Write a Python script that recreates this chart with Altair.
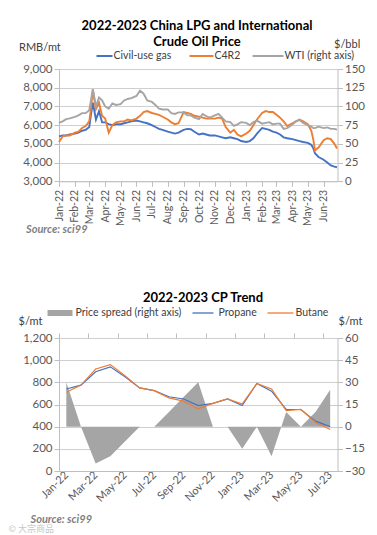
import altair as alt
import pandas as pd

FONT = "Lato"

# ---------------- top chart data ----------------
dates = [
    "2022-01-01", "2022-01-08", "2022-01-15", "2022-01-22",
    "2022-02-01", "2022-02-08", "2022-02-15", "2022-02-22",
    "2022-03-01", "2022-03-04", "2022-03-08", "2022-03-14", "2022-03-20", "2022-03-26",
    "2022-04-01", "2022-04-08", "2022-04-15", "2022-04-22",
    "2022-05-01", "2022-05-08", "2022-05-15", "2022-05-22",
    "2022-06-01", "2022-06-08", "2022-06-15", "2022-06-22",
    "2022-07-01", "2022-07-08", "2022-07-15", "2022-07-22",
    "2022-08-01", "2022-08-08", "2022-08-15", "2022-08-22",
    "2022-09-01", "2022-09-08", "2022-09-15", "2022-09-22",
    "2022-10-01", "2022-10-08", "2022-10-15", "2022-10-22",
    "2022-11-01", "2022-11-08", "2022-11-15", "2022-11-22",
    "2022-12-01", "2022-12-08", "2022-12-15", "2022-12-22",
    "2023-01-01", "2023-01-08", "2023-01-15", "2023-01-22",
    "2023-02-01", "2023-02-08", "2023-02-15", "2023-02-22",
    "2023-03-01", "2023-03-08", "2023-03-15", "2023-03-22",
    "2023-04-01", "2023-04-08", "2023-04-15", "2023-04-22",
    "2023-05-01", "2023-05-08", "2023-05-12", "2023-05-15", "2023-05-22",
    "2023-06-01", "2023-06-08", "2023-06-15", "2023-06-22", "2023-06-27",
]
civil_gas = [
    5400, 5450, 5450, 5500,
    5550, 5600, 5700, 5750,
    5900, 6500, 7200, 6300, 6750, 6150,
    6150, 6050, 6000, 6050,
    6050, 6100, 6150, 6200,
    6250, 6200, 6150, 6100,
    6000, 5900, 5800, 5750,
    5650, 5600, 5550, 5600,
    5750, 5800, 5780, 5650,
    5500, 5550, 5500, 5450,
    5450, 5400, 5350, 5300,
    5350, 5300, 5250, 5150,
    5100, 5150, 5300, 5550,
    5850, 5800, 5750, 5650,
    5600, 5500, 5350, 5300,
    5250, 5200, 5150, 5100,
    5050, 4950, 4750, 4500, 4300,
    4150, 4000, 3850, 3780, 3750,
]
c4r2 = [
    5100, 5400, 5450, 5450,
    5600, 5650, 5850, 5950,
    6200, 6800, 7900, 6850, 7200, 6500,
    6350, 5600, 6000, 6150,
    6200, 6200, 6300, 6250,
    6350, 6500, 6700, 6750,
    6650, 6600, 6550, 6450,
    6300, 6150, 6050, 6100,
    6700, 6650, 6600, 6500,
    6450, 6400, 6350, 6350,
    6350, 6400, 6350, 5900,
    5600, 5750, 5500, 5400,
    5550, 5700, 6000, 6300,
    6650, 6750, 6700, 6700,
    6550, 6400, 6200, 5950,
    6100, 6200, 6300, 6200,
    6050, 5700, 5200, 4650, 4800,
    5200, 5300, 5250, 5000, 4750,
]
wti = [
    78, 80, 83, 84,
    86, 88, 91, 91,
    95, 107, 123, 100, 112, 108,
    100, 97, 104, 102,
    103, 108, 110, 111,
    114, 121, 117, 108,
    106, 102, 97, 96,
    96, 91, 90, 92,
    92, 88, 88, 85,
    83, 90, 87, 85,
    88, 90, 85, 80,
    79, 74, 76, 79,
    78, 75, 79, 81,
    77, 78, 79, 76,
    77, 77, 70, 71,
    76, 80, 82, 78,
    75, 73, 71, 71, 73,
    71, 72, 70, 70, 69,
]

# ---------------- bottom chart data ----------------
months = ["Jan-22", "Feb-22", "Mar-22", "Apr-22", "May-22", "Jun-22", "Jul-22",
          "Aug-22", "Sep-22", "Oct-22", "Nov-22", "Dec-22", "Jan-23", "Feb-23",
          "Mar-23", "Apr-23", "May-23", "Jun-23", "Jul-23"]
propane = [740, 775, 895, 940, 850, 750, 725, 670, 650, 590, 610, 650, 590, 790, 720, 555, 555, 450, 400]
butane = [710, 775, 920, 960, 860, 750, 725, 660, 630, 560, 610, 650, 605, 790, 740, 545, 555, 440, 375]
spread = [30, 0, -25, -20, -10, 0, 0, 10, 20, 30, 0, 0, -15, 0, -20, 10, 0, 10, 25]

BLUE = "#4472C4"
ORANGE = "#ED7D31"
GRAY = "#A5A5A5"
TXT = "#404040"

top_df = pd.DataFrame({"date": pd.to_datetime(dates), "Civil-use gas": civil_gas,
                       "C4R2": c4r2, "WTI": wti})
bot_df = pd.DataFrame({"idx": list(range(len(months))), "month": months,
                       "Propane": propane, "Butane": butane, "spread": spread})


def txt(s, x, y, size=11, bold=False, italic=False, color=TXT, align="left", font=FONT):
    return alt.Chart(pd.DataFrame({"t": [s]})).mark_text(
        align=align, baseline="middle", fontSize=size,
        fontWeight="bold" if bold else "normal",
        fontStyle="italic" if italic else "normal",
        color=color, font=font,
    ).encode(x=alt.value(x), y=alt.value(y), text="t:N")


def hline(x1, x2, y, color, w=2.0):
    return alt.Chart(pd.DataFrame({"a": [0]})).mark_rule(color=color, strokeWidth=w).encode(
        x=alt.value(x1), x2=alt.value(x2), y=alt.value(y))


def box(x1, x2, y1, y2, color):
    return alt.Chart(pd.DataFrame({"a": [0]})).mark_rect(color=color).encode(
        x=alt.value(x1), x2=alt.value(x2), y=alt.value(y1), y2=alt.value(y2))


W = 278.5
H1 = 112.3
H2 = 133

# ---------------- top chart ----------------
tick_vals = [alt.DateTime(year=2022 + (m // 12), month=(m % 12) + 1, date=1) for m in range(18)]
xdom = [alt.DateTime(year=2022, month=1, date=1), alt.DateTime(year=2023, month=6, date=28)]

xtop = alt.X("date:T", scale=alt.Scale(domain=xdom),
             axis=alt.Axis(values=tick_vals, format="%b-%y", labelAngle=270, grid=False,
                           tickSize=5, labelPadding=3, labelFontSize=10.5, title=None,
                           labelOverlap=False))

left_lines = alt.Chart(top_df).transform_fold(
    ["Civil-use gas", "C4R2"], as_=["series", "value"]
).mark_line(strokeWidth=1.9).encode(
    x=xtop,
    y=alt.Y("value:Q", scale=alt.Scale(domain=[3000, 9000]),
            axis=alt.Axis(values=list(range(3000, 9001, 1000)), format=",d", orient="left",
                          grid=True, tickSize=5, title=None, labelFontSize=11.5)),
    color=alt.Color("series:N", scale=alt.Scale(domain=["Civil-use gas", "C4R2"],
                                                 range=[BLUE, ORANGE]), legend=None),
)

wti_line = alt.Chart(top_df).mark_line(strokeWidth=1.9, color=GRAY).encode(
    x=xtop,
    y=alt.Y("WTI:Q", scale=alt.Scale(domain=[0, 150]),
            axis=alt.Axis(values=list(range(0, 151, 25)), orient="right", grid=False,
                          tickSize=5, title=None, labelFontSize=11.5)),
)

top = alt.layer(
    left_lines, wti_line,
    txt("2022-2023  China LPG and International", 138, -43, size=13, bold=True, color="#000000", align="center"),
    txt("Crude Oil Price", 138, -27, size=13, bold=True, color="#000000", align="center"),
    txt("RMB/mt", -40, -21, size=11),
    txt("$/bbl", 275, -24.5, size=11),
    hline(37.5, 53.5, -13, BLUE),
    txt("Civil-use gas", 54.5, -13, size=10.5),
    hline(130.5, 154.5, -13, ORANGE),
    txt("C4R2", 155.5, -13, size=10.5),
    hline(193.5, 224.5, -13, GRAY),
    txt("WTI (right axis)", 225.5, -13, size=10.5),
    txt("Source: sci99", -33, 160.5, size=11, bold=True, italic=True, color="#7F7F7F"),
).resolve_scale(y="independent").properties(width=W, height=H1)

# ---------------- bottom chart ----------------
label_expr = "[" + ",".join("'%s'" % m for m in months) + "][datum.value]"
xdom2 = [-0.5, len(months) - 0.5]

area = alt.Chart(bot_df).mark_area(color=GRAY, opacity=1).encode(
    x=alt.X("idx:Q", scale=alt.Scale(domain=xdom2, nice=False, zero=False),
            axis=alt.Axis(values=list(range(0, len(months), 2)), labelExpr=label_expr,
                          labelAngle=315, labelAlign="right", labelBaseline="middle",
                          labelOverlap=False, ticks=False, grid=False, title=None,
                          labelFontSize=11, labelPadding=2)),
    y=alt.Y("spread:Q", scale=alt.Scale(domain=[-30, 60]),
            axis=alt.Axis(values=list(range(-30, 61, 15)), orient="right", grid=False,
                          tickSize=5, title=None, labelFontSize=11.5)),
    y2=alt.datum(0),
)

bot_lines = alt.Chart(bot_df).transform_fold(
    ["Propane", "Butane"], as_=["series", "value"]
).mark_line(strokeWidth=1.2).encode(
    x=alt.X("idx:Q", scale=alt.Scale(domain=xdom2, nice=False, zero=False),
            axis=alt.Axis(values=[i - 0.5 for i in range(0, len(months), 2)], labels=False,
                          ticks=True, tickSize=5, grid=False, domain=False, title=None)),
    y=alt.Y("value:Q", scale=alt.Scale(domain=[0, 1200]),
            axis=alt.Axis(values=list(range(0, 1201, 200)), format=",d", orient="left",
                          grid=True, tickSize=5, title=None, labelFontSize=11.5)),
    color=alt.Color("series:N", scale=alt.Scale(domain=["Propane", "Butane"],
                                                 range=[BLUE, ORANGE]), legend=None),
)

bottom = alt.layer(
    area, bot_lines,
    txt("2022-2023  CP Trend", 144, -40, size=13, bold=True, color="#000000", align="center"),
    box(-11.5, 13.5, -28, -22, GRAY),
    txt("Price spread (right axis)", 16.5, -25, size=10.5),
    hline(133.5, 154.5, -25, BLUE, 1.3),
    txt("Propane", 159.5, -25, size=10.5),
    hline(208.5, 234.5, -25, ORANGE, 1.3),
    txt("Butane", 236.5, -25, size=10.5),
    txt("$/mt", -40.5, -16, size=11),
    txt("$/mt", 279.5, -16, size=11),
    txt("Source: sci99", -28.5, 181.5, size=11, bold=True, italic=True, color="#7F7F7F"),
    txt("© 大宗商品", -50.5, 191, size=9, color="#C8C8C8", font="Noto Sans CJK SC"),
).resolve_scale(y="independent").resolve_axis(x="independent").properties(width=W, height=H2)

chart = alt.vconcat(top, bottom, spacing=156, bounds="flush").properties(
    padding={"left": 0, "top": 12, "right": 0, "bottom": 0}
).configure_axis(
    labelFont=FONT, labelColor="#595959", domainColor="#BFBFBF", tickColor="#BFBFBF",
    gridColor="#CFCFCF", titleFont=FONT,
).configure_view(stroke=None)

chart.save("out.html", embed_options={"renderer": "svg", "actions": False})
